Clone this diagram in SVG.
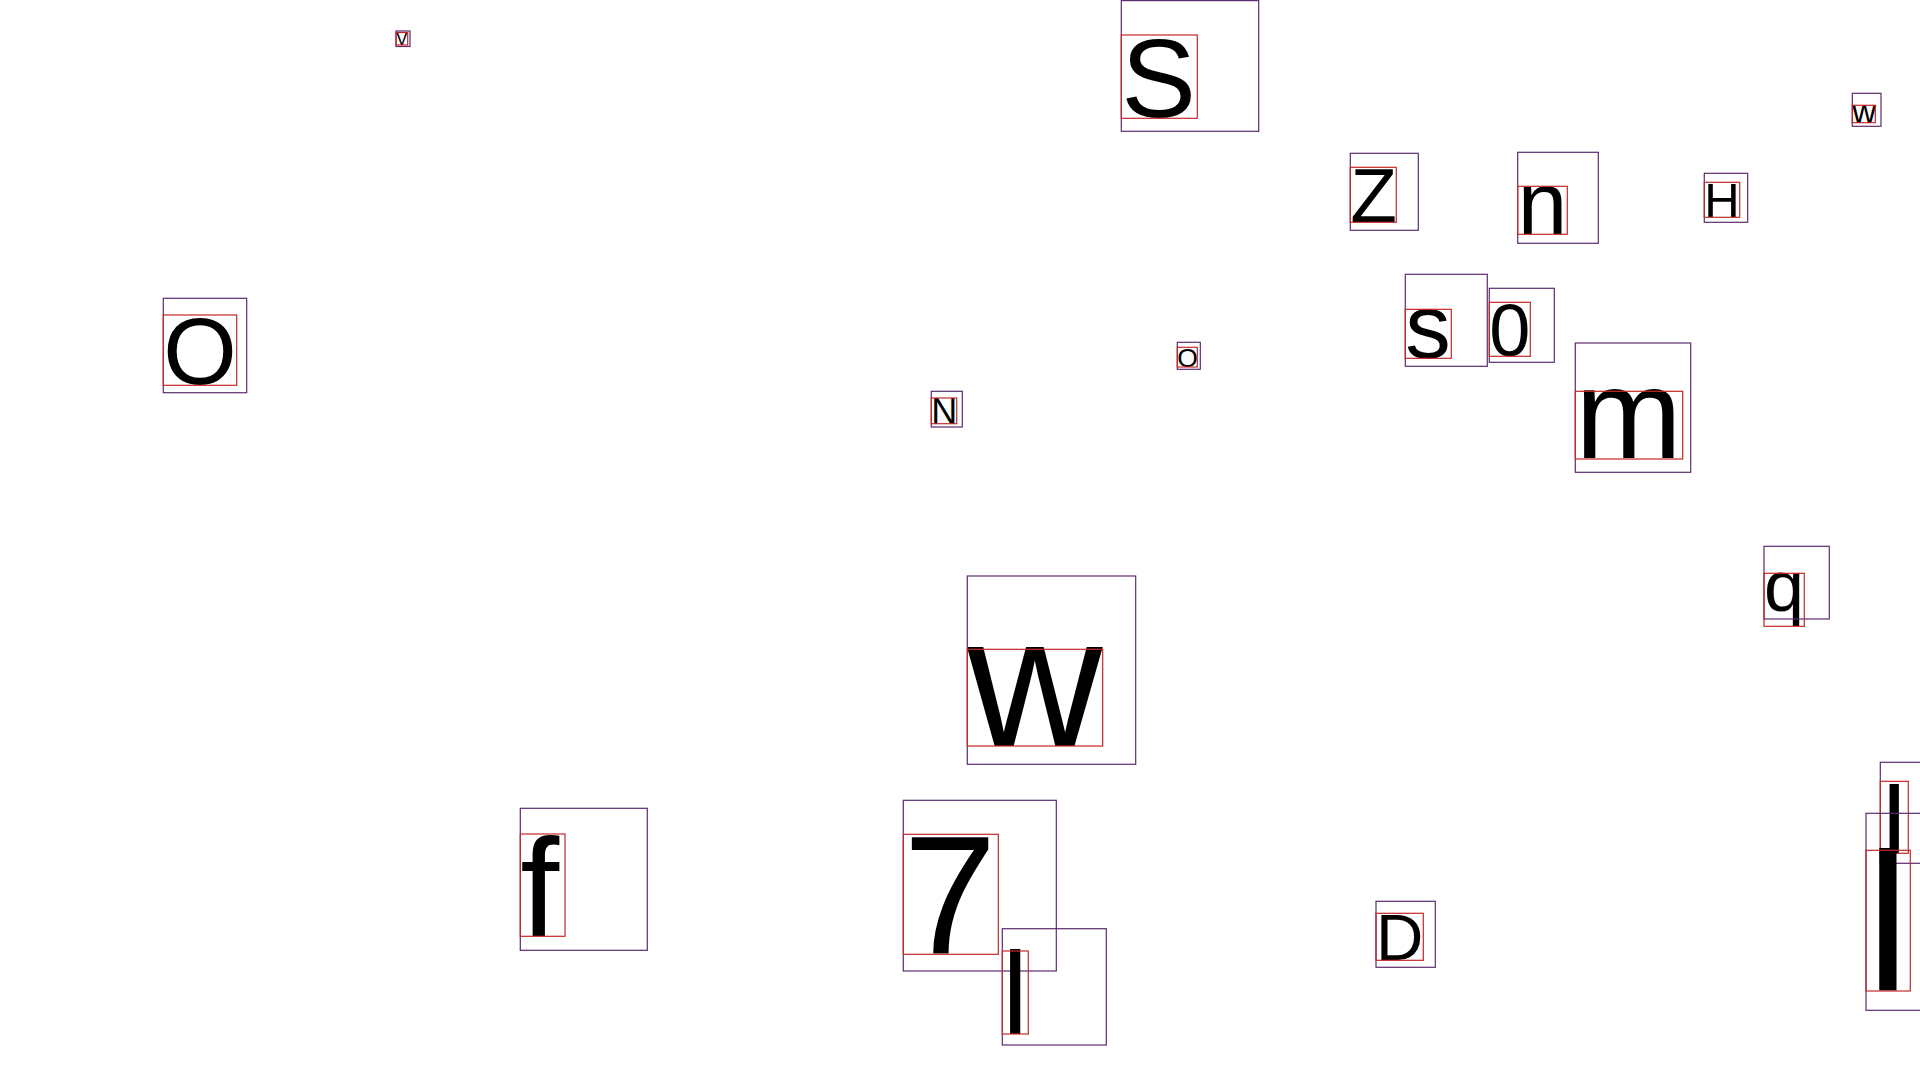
<svg xmlns="http://www.w3.org/2000/svg" width="1920" height="1080" viewBox="0 0 1920 1080">
<style>
.g{font-family:"Liberation Sans",Arial,sans-serif;fill:#000}
.o{fill:none;stroke:#5b2c6f;stroke-width:1.2}
.r{fill:none;stroke:#c62828;stroke-width:1.2}
</style>
<rect width="1920" height="1080" fill="#fff"/>
<g id="n-V"><text class="g" x="396" y="45" font-size="17.5">V</text><rect class="o" x="396" y="31" width="14" height="15.5"/><rect class="r" x="396" y="32.5" width="11.7" height="12.5"/></g>
<g id="n-O1"><text class="g" x="163.3" y="384.2" font-size="94.5">O</text><rect class="o" x="163.3" y="298.3" width="83.4" height="94.4"/><rect class="r" x="163.3" y="315" width="73.4" height="70.3"/></g>
<g id="n-S"><text class="g" x="1121.3" y="117" font-size="112">S</text><rect class="o" x="1121.3" y="0.6" width="137.4" height="130.7"/><rect class="r" x="1121.3" y="35" width="76" height="83.3"/></g>
<g id="n-Z"><text class="g" x="1350.3" y="222.3" font-size="76.5">Z</text><rect class="o" x="1350.3" y="153.3" width="68" height="77"/><rect class="r" x="1350.3" y="167.3" width="46" height="55"/></g>
<g id="n-n"><text class="g" x="1517.7" y="234.3" font-size="89">n</text><rect class="o" x="1517.7" y="152.3" width="80.6" height="91"/><rect class="r" x="1517.7" y="186.3" width="49.6" height="48"/></g>
<g id="n-H"><text class="g" x="1704.3" y="217.3" font-size="49">H</text><rect class="o" x="1704.3" y="173.3" width="43.4" height="49"/><rect class="r" x="1704.3" y="182.3" width="35.4" height="35"/></g>
<g id="n-w1"><text class="g" x="1852.3" y="122.7" font-size="33">w</text><rect class="o" x="1852.3" y="93.3" width="28.7" height="33"/><rect class="r" x="1852.3" y="105.3" width="23" height="17.4"/></g>
<g id="n-s"><text class="g" x="1405.3" y="357.5" font-size="91">s</text><rect class="o" x="1405.3" y="274.3" width="82" height="92"/><rect class="r" x="1405.3" y="309.3" width="46" height="49"/></g>
<g id="n-0"><text class="g" x="1489.3" y="355.5" font-size="74">0</text><rect class="o" x="1489.3" y="288.3" width="65" height="74"/><rect class="r" x="1489.3" y="302.3" width="41" height="54"/></g>
<g id="n-m"><text class="g" x="1575.3" y="458" font-size="128">m</text><rect class="o" x="1575.3" y="343" width="115.4" height="129.3"/><rect class="r" x="1575.3" y="391.3" width="107.4" height="67.7"/></g>
<g id="n-O2"><text class="g" x="1177.3" y="366.7" font-size="26.5">O</text><rect class="o" x="1177.3" y="342.3" width="23" height="27"/><rect class="r" x="1177.3" y="347.3" width="20" height="19.7"/></g>
<g id="n-N"><text class="g" x="931.3" y="423.7" font-size="36">N</text><rect class="o" x="931.3" y="391.3" width="31" height="35.7"/><rect class="r" x="931.3" y="398" width="25.4" height="25.7"/></g>
<g id="n-w2"><text class="g" x="967.3" y="746" font-size="187">w</text><rect class="o" x="967.3" y="576" width="168.4" height="188.3"/><rect class="r" x="967.3" y="649.3" width="135.4" height="96.7"/></g>
<g id="n-f"><text class="g" x="520.3" y="936.3" font-size="140">f</text><rect class="o" x="520.3" y="808.3" width="127" height="142"/><rect class="r" x="520.3" y="834" width="44.7" height="102.3"/></g>
<g id="n-7"><text class="g" x="903.3" y="954.3" font-size="168">7</text><rect class="o" x="903.3" y="800.3" width="153" height="170.7"/><rect class="r" x="903.3" y="834.3" width="95" height="120"/></g>
<g id="n-l1"><text class="g" x="1002.3" y="1034" font-size="116">l</text><rect class="o" x="1002.3" y="928.7" width="104" height="116.3"/><rect class="r" x="1002.3" y="951" width="26" height="83"/></g>
<g id="n-q"><text class="g" x="1764" y="611.3" font-size="72">q</text><rect class="o" x="1764" y="546.3" width="65.3" height="72.7"/><rect class="r" x="1764" y="573.3" width="40.3" height="53"/></g>
<g id="n-D"><text class="g" x="1376" y="960.3" font-size="65.6">D</text><rect class="o" x="1376" y="901.3" width="59.3" height="66"/><rect class="r" x="1376" y="913.3" width="47.3" height="47"/></g>
<g id="n-I"><text class="g" x="1880.3" y="853.3" font-size="100.5">I</text><rect class="o" x="1880.3" y="762.3" width="45" height="101"/><rect class="r" x="1880.3" y="781.3" width="28" height="72"/></g>
<g id="n-l2"><text class="g" x="1866" y="991" font-size="196.5">l</text><rect class="o" x="1866" y="813.3" width="60" height="197"/><rect class="r" x="1866" y="850.3" width="44.3" height="140.7"/></g>
</svg>
